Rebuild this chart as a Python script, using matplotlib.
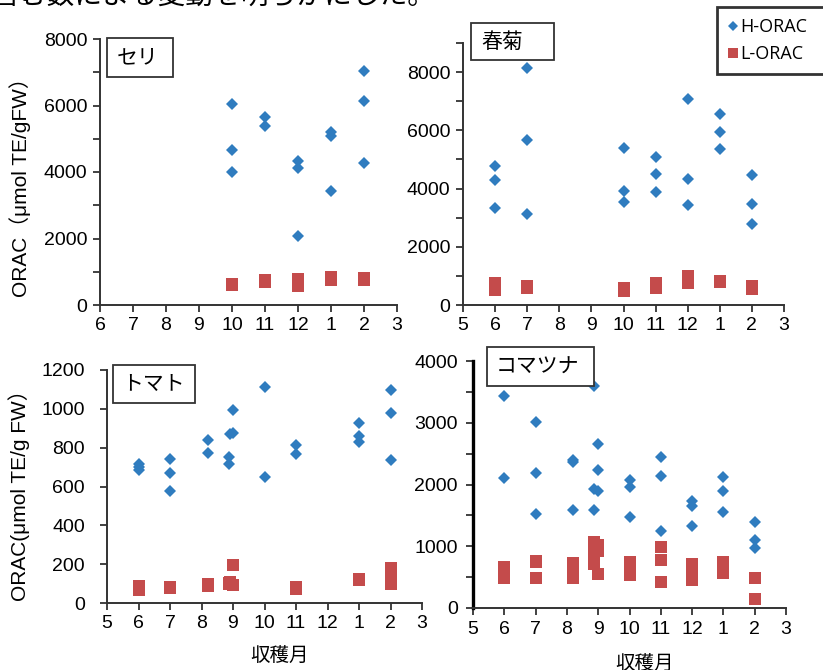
import matplotlib
matplotlib.use("Agg")
import matplotlib.pyplot as plt
from matplotlib.patches import Rectangle
from matplotlib.lines import Line2D

JP = ['Liberation Sans', 'Noto Sans CJK JP', 'DejaVu Sans']
plt.rcParams['font.family'] = JP

BLUE = '#2f7cbf'
RED = '#c44b4b'

# x positions are along each panel's month axis (0 = first tick label)
# --- セリ (top left), axis 6..3
seri_months = ['6', '7', '8', '9', '10', '11', '12', '1', '2', '3']
seri_hx = [4, 4, 4, 5, 5, 6, 6, 6, 7, 7, 7, 8, 8, 8]
seri_hy = [6050, 4650, 4000, 5650, 5390, 4340, 4130, 2080, 5200, 5070, 3440, 7050, 6150, 4280]
seri_lx = [4, 4, 4, 5, 5, 5, 6, 6, 6, 7, 7, 7, 8, 8, 8]
seri_ly = [600, 620, 640, 680, 720, 750, 580, 680, 770, 740, 800, 830, 740, 780, 800]

# --- 春菊 (top right), axis 5..3
shun_months = ['5', '6', '7', '8', '9', '10', '11', '12', '1', '2', '3']
shun_hx = [1, 1, 1, 2, 2, 2, 5, 5, 5, 6, 6, 6, 7, 7, 7, 8, 8, 8, 9, 9, 9]
shun_hy = [4780, 4300, 3320, 8140, 5660, 3130, 5380, 3930, 3550, 5090, 4500, 3870,
           7060, 4340, 3420, 6570, 5950, 5350, 4460, 3460, 2770]
shun_lx = [1, 1, 1, 2, 2, 2, 5, 5, 5, 6, 6, 6, 7, 7, 7, 8, 8, 9, 9, 9]
shun_ly = [500, 620, 760, 580, 620, 660, 470, 520, 590, 600, 680, 760,
           760, 870, 990, 800, 830, 560, 600, 640]

# --- トマト (bottom left), axis 5..3
tomato_months = ['5', '6', '7', '8', '9', '10', '11', '12', '1', '2', '3']
tomato_hx = [1, 1, 1, 2, 2, 2, 3.2, 3.2, 3.88, 3.88, 3.9, 4.0, 4.0,
             5, 5, 6, 6, 8, 8, 8, 9, 9, 9]
tomato_hy = [715, 700, 685, 740, 670, 575, 840, 770, 750, 715, 870, 875, 995,
             1113, 651, 814, 766, 926, 861, 828, 1095, 977, 739]
tomato_lx = [1, 1, 1, 2, 2, 2, 3.2, 3.2, 3.2, 3.88, 3.88, 3.9, 4.0, 4.0,
             6, 6, 6, 8, 8, 9, 9, 9, 9]
tomato_ly = [65, 75, 88, 75, 78, 80, 85, 90, 96, 100, 104, 106, 92, 195,
             70, 78, 83, 118, 125, 100, 130, 160, 180]

# --- コマツナ (bottom right), axis 5..3
koma_months = ['5', '6', '7', '8', '9', '10', '11', '12', '1', '2', '3']
koma_hx = [1, 1, 2, 2, 2, 3.18, 3.18, 3.18, 3.88, 4.0, 4.0, 3.88, 4.0, 3.88,
           5, 5, 5, 6, 6, 6, 7, 7, 7, 8, 8, 8, 9, 9, 9]
koma_hy = [3440, 2110, 3010, 2180, 1530, 2400, 2360, 1590, 3600, 2650, 2230, 1920, 1890, 1590,
           2070, 1965, 1480, 2450, 2140, 1245, 1740, 1650, 1335, 2125, 1900, 1550, 1385, 1100, 970]
koma_lx = [1, 1, 1, 1, 2, 2, 2, 3.18, 3.18, 3.18, 3.18, 3.88, 3.88, 3.88, 3.88, 4.0, 4.0, 4.0,
           5, 5, 5, 5, 6, 6, 6, 7, 7, 7, 7, 8, 8, 8, 9, 9]
koma_ly = [480, 540, 600, 660, 760, 740, 485, 490, 560, 650, 730, 1070, 950, 830, 720, 1020, 920, 550,
           530, 600, 680, 750, 980, 770, 420, 460, 550, 640, 715, 560, 650, 750, 480, 140]

W, H = 823, 670
fig = plt.figure(figsize=(W / 100, H / 100), dpi=100)


def px_axes(left, right, top, bottom):
    return fig.add_axes([left / W, 1 - bottom / H, (right - left) / W, (bottom - top) / H])


def style(ax, months, ymax, step, label_step, ypad):
    n = len(months)
    ax.set_xlim(0, n - 1)
    ax.set_xticks(range(n))
    ax.set_xticklabels(months)
    ax.set_ylim(0, ymax)
    ticks = list(range(0, ymax + 1, step))
    ax.set_yticks(ticks)
    ax.set_yticklabels([str(t) if t % label_step == 0 else '' for t in ticks])
    for s in ['top', 'right']:
        ax.spines[s].set_visible(False)
    for s in ['left', 'bottom']:
        ax.spines[s].set_color('#333333')
        ax.spines[s].set_linewidth(1.4)
    ax.tick_params(direction='out', length=5, width=1.3, color='#333333',
                   labelsize=14, pad=4)
    ax.tick_params(axis='y', pad=ypad)


def draw(ax, hx, hy, lx, ly):
    ax.plot(lx, ly, 's', ms=8.8, color=RED, mew=0, clip_on=False)
    ax.plot(hx, hy, 'D', ms=6.4, color=BLUE, mew=0, clip_on=False)


ax1 = px_axes(100, 397, 39, 305)
draw(ax1, seri_hx, seri_hy, seri_lx, seri_ly)
style(ax1, seri_months, 8000, 1000, 2000, 4)

ax2 = px_axes(463, 784, 43, 305)
draw(ax2, shun_hx, shun_hy, shun_lx, shun_ly)
style(ax2, shun_months, 9000, 1000, 2000, 4)

ax3 = px_axes(107, 422, 370, 603)
draw(ax3, tomato_hx, tomato_hy, tomato_lx, tomato_ly)
style(ax3, tomato_months, 1200, 200, 200, 11)

ax4 = px_axes(473, 786, 361, 608)
draw(ax4, koma_hx, koma_hy, koma_lx, koma_ly)
style(ax4, koma_months, 4000, 500, 1000, 6)
ax4.spines['left'].set_color('black')
ax4.spines['left'].set_linewidth(2.4)

# panel name boxes (pixel coords: left, right, top, bottom, text x)
boxes = [('セリ', 107, 173, 38, 77, 117),
         ('春菊', 471, 554, 23, 60, 481),
         ('トマト', 113, 195, 365, 403, 122),
         ('コマツナ', 487, 594, 347, 386, 496)]
for name, l, r, t, b, tx in boxes:
    fig.patches.append(Rectangle((l / W, 1 - b / H), (r - l) / W, (b - t) / H,
                                 transform=fig.transFigure, fill=True, fc='white',
                                 ec='#333333', lw=1.3, zorder=5))
    fig.text(tx / W, 1 - (t + b) / 2 / H, name, fontsize=15, ha='left', va='center',
             family=['Noto Sans CJK JP'], zorder=6)

# y labels
fig.text(20 / W, 1 - 182 / H, 'ORAC（μmol TE/gFW）', rotation=90, ha='center', va='center',
         fontsize=15, family=JP)
fig.text(19 / W, 1 - 490 / H, 'ORAC(μmol TE/g FW）', rotation=90, ha='center', va='center',
         fontsize=15, family=JP)

# x labels
fig.text(280 / W, 1 - 655 / H, '収穫月', ha='center', va='center', fontsize=14,
         family=['Noto Sans CJK JP'])
fig.text(645 / W, 1 - 663 / H, '収穫月', ha='center', va='center', fontsize=14,
         family=['Noto Sans CJK JP'])

# clipped caption line at the very top
fig.text(-8 / W, 1 - 5 / H, '含む数による変動を明らかにした。', ha='left', va='baseline',
         fontsize=20, family=['Noto Sans CJK JP'])

# legend
handles = [Line2D([], [], ls='none', marker='D', ms=5, color=BLUE, mew=0),
           Line2D([], [], ls='none', marker='s', ms=7.5, color=RED, mew=0)]
leg = fig.legend(handles, ['H-ORAC', 'L-ORAC'], loc='upper left',
                 bbox_to_anchor=(717 / W, 1 - 76 / H, 130 / W, 69 / H), mode='expand',
                 frameon=True, fancybox=False,
                 prop={'family': 'Open Sans', 'size': 13}, handlelength=0.6,
                 handletextpad=0.1, borderpad=0.6, labelspacing=0.5, borderaxespad=0)
leg.get_frame().set_edgecolor('black')
leg.get_frame().set_linewidth(2)

fig.savefig('out.png', dpi=100)
